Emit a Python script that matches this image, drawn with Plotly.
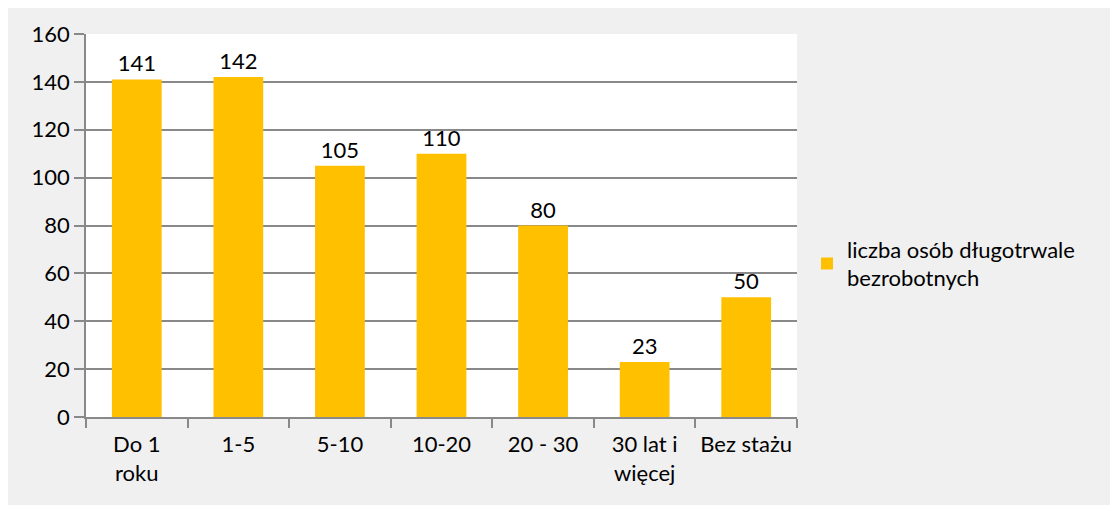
import plotly.graph_objects as go

# data
categories = ['Do 1<br>roku', '1-5', '5-10', '10-20', '20 - 30', '30 lat i<br>więcej', 'Bez stażu']
values = [141, 142, 105, 110, 80, 23, 50]
series_name = 'liczba osób długotrwale<br>bezrobotnych'

# the page body keeps its default 8px margin, so the figure is sized to fit inside it
W, H = 1102, 497
L, T = 78, 26
pw, ph = 711, 383
R, B = W - L - pw, H - T - ph

font_main = 'Lato, Calibri, sans-serif'

fig = go.Figure()

fig.add_trace(go.Bar(
    x=categories,
    y=values,
    name=series_name,
    marker_color='#FFC000',
    marker_line_width=0,
    text=[str(v) for v in values],
    textposition='outside',
    textfont=dict(size=22, color='#000000', family=font_main),
    cliponaxis=False,
))

fig.update_layout(
    width=W, height=H,
    margin=dict(l=L, r=R, t=T, b=B, autoexpand=False),
    paper_bgcolor='#f0f0f0',
    plot_bgcolor='#ffffff',
    bargap=0.51,
    font=dict(family=font_main, size=22, color='#000000'),
    showlegend=True,
    legend=dict(
        x=(799 - L) / pw, y=(ph + T - 256) / ph,
        xanchor='left', yanchor='middle',
        bgcolor='rgba(0,0,0,0)',
        font=dict(size=22, family=font_main, color='#000000'),
        valign='middle',
        itemwidth=30,
    ),
)

fig.update_xaxes(
    type='category',
    automargin=False,
    tickangle=0,
    showline=True, linecolor='#898989', linewidth=2,
    ticks='outside', tickson='boundaries', ticklen=9, tickcolor='#898989', tickwidth=2,
    ticklabelstandoff=7,
    showgrid=False,
    tickfont=dict(size=22, family=font_main, color='#000000'),
)

fig.update_yaxes(
    range=[0, 160], dtick=20,
    automargin=False,
    showgrid=True, gridcolor='#898989', gridwidth=2,
    zeroline=False,
    showline=True, linecolor='#898989', linewidth=1.5,
    ticks='outside', ticklen=10, tickcolor='#898989', tickwidth=2,
    tickfont=dict(size=22, family=font_main, color='#000000'),
)

fig.write_html('out.html')
